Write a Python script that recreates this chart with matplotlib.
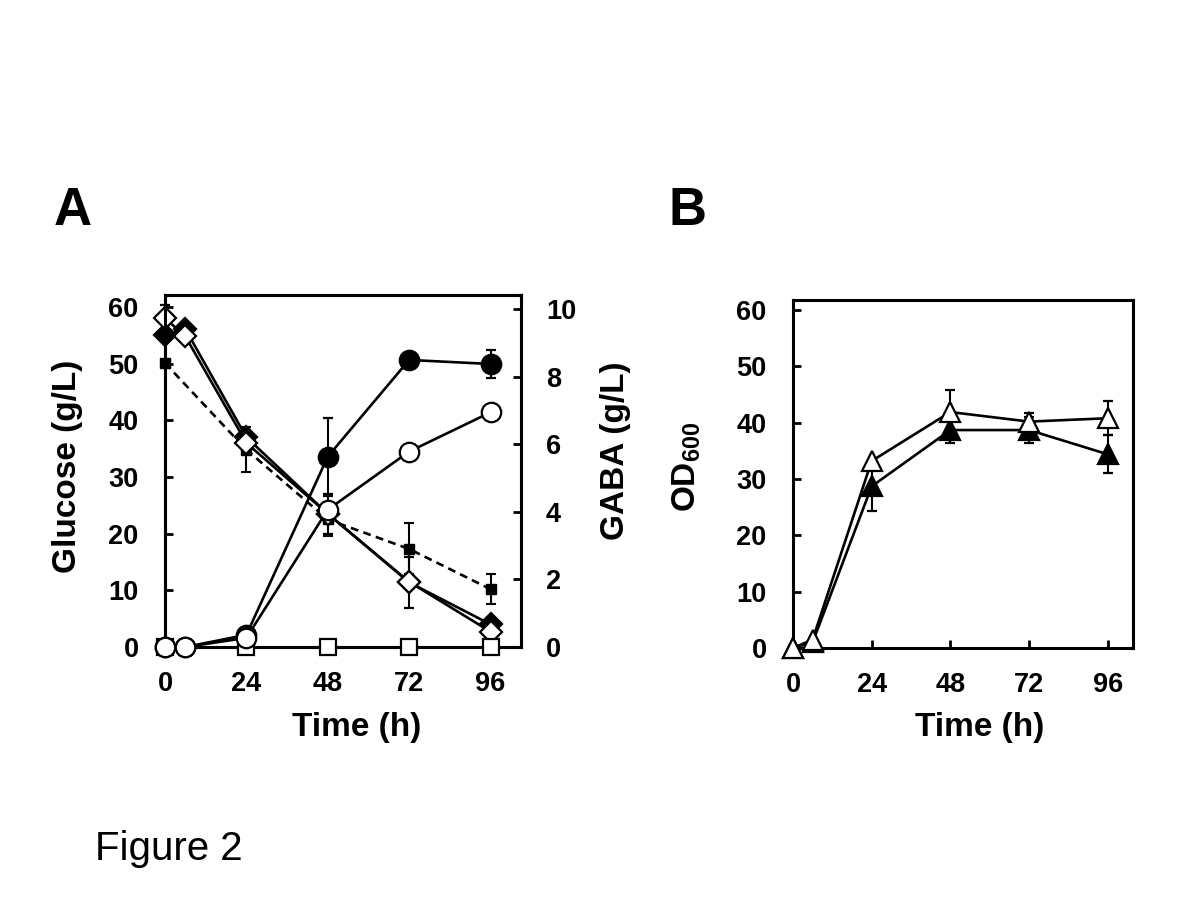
#!/usr/bin/env python
# -*- coding: utf-8 -*-
"""
Figure 2: glucose / GABA time course (A) and OD600 (B)
"""

import numpy as np
import matplotlib
matplotlib.use("Agg")
import matplotlib.pyplot as plt

plt.rcParams['font.family'] = ['Liberation Sans', 'DejaVu Sans']
plt.rcParams['mathtext.fontset'] = 'custom'
plt.rcParams['mathtext.rm'] = 'Liberation Sans:bold'
plt.rcParams['mathtext.default'] = 'rm'

# ---- data ----
t6 = [0, 6, 24, 48, 72, 96]
t5 = [0, 24, 48, 72, 96]

# panel A, left axis: glucose (g/L)
glc_fill_dia = [55.1, 56.1, 37.0, 23.5, 11.4, 4.0]
glc_fill_dia_err = [0, 0, 0, 0, 4.5, 0]
glc_open_dia = [58.0, 54.8, 36.0, 23.5, 11.5, 2.7]
glc_open_dia_err = [2.4, 0, 0, 3.5, 0, 0]
glc_fill_sq = [50.1, 34.8, 22.5, 17.3, 10.2]
glc_fill_sq_err = [0, 4.0, 3.0, 4.5, 2.7]

# panel A, right axis: GABA (g/L)
gaba_fill_circ = [0, 0, 0.36, 5.63, 8.49, 8.37]
gaba_fill_circ_err = [0, 0, 0, 1.15, 0.2, 0.4]
gaba_open_circ = [0, 0, 0.27, 4.06, 5.78, 6.94]
gaba_open_sq = [0, 0, 0, 0, 0]

# panel B: OD600
od_open_tri = [0, 1.5, 33.2, 41.9, 40.2, 40.8]
od_open_tri_err = [0, 0, 0, 3.9, 1.5, 3.0]
od_fill_tri = [0, 1.0, 28.7, 38.7, 38.7, 34.4]
od_fill_tri_err = [0, 0, 4.4, 2.3, 2.3, 3.4]

xticks = [0, 24, 48, 72, 96]

fig = plt.figure(figsize=(12, 9), dpi=100)

lw = 1.9
mew = 1.6
eb = dict(ecolor='k', elinewidth=1.5, capsize=3.5, capthick=1.5)
tickfont = 19.5
labfont = 24


def style_axis(a, ypad=19):
    for s in a.spines.values():
        s.set_linewidth(2.2)
    a.tick_params(direction='in', length=6, width=2, labelsize=tickfont)
    a.tick_params(axis='x', pad=17)
    a.tick_params(axis='y', pad=ypad)
    for lab in a.get_xticklabels() + a.get_yticklabels():
        lab.set_fontweight('bold')


# ---------------- panel A ----------------
ax = fig.add_axes([0.1375, 0.2811, 0.2967, 0.3911])
ax.errorbar(t5, glc_fill_sq, yerr=glc_fill_sq_err, fmt='s', color='k', ms=7,
            ls=(0, (3, 2)), lw=lw, clip_on=False, zorder=3, **eb)
ax.errorbar(t6, glc_fill_dia, yerr=glc_fill_dia_err, fmt='D', color='k', ms=11,
            mfc='k', mec='k', mew=mew, ls='-', lw=lw, clip_on=False, zorder=4, **eb)
ax.errorbar(t6, glc_open_dia, yerr=glc_open_dia_err, fmt='D', color='k', ms=11,
            mfc='white', mec='k', mew=mew, ls='-', lw=lw, clip_on=False, zorder=5, **eb)
ax.set_xlim(0, 105)
ax.set_ylim(0, 62.1)
ax.set_xticks(xticks)
ax.set_yticks(np.arange(0, 61, 10))
ax.tick_params(right=False)
style_axis(ax)
ax.set_ylabel('Glucose (g/L)', fontsize=labfont, fontweight='bold')
ax.yaxis.set_label_coords(-0.23, 0.514)
ax.set_xlabel('Time (h)', fontsize=labfont, fontweight='bold')
ax.xaxis.set_label_coords(0.537, -0.185)

ax2 = ax.twinx()
ax2.plot(t5, gaba_open_sq, marker='s', color='k', ms=11.5, mfc='white', mec='k',
         mew=mew, ls='-', lw=lw, clip_on=False, zorder=3)
ax2.errorbar(t6, gaba_fill_circ, yerr=gaba_fill_circ_err, fmt='o', color='k', ms=14,
             mfc='k', mec='k', mew=mew, ls='-', lw=lw, clip_on=False, zorder=4, **eb)
ax2.plot(t6, gaba_open_circ, marker='o', color='k', ms=14, mfc='white', mec='k',
         mew=mew, ls='-', lw=lw, clip_on=False, zorder=5)
ax2.set_xlim(0, 105)
ax2.set_ylim(0, 10.41)
ax2.set_yticks(np.arange(0, 11, 2))
style_axis(ax2, ypad=18)
ax2.set_ylabel('GABA (g/L)', fontsize=labfont, fontweight='bold')
ax2.yaxis.set_label_coords(1.222, 0.557)

fig.text(0.061, 0.766, 'A', fontsize=38, fontweight='bold', va='center', ha='center')

# ---------------- panel B ----------------
bx = fig.add_axes([0.6608, 0.28, 0.2833, 0.3867])
bx.errorbar(t6, od_fill_tri, yerr=od_fill_tri_err, fmt='^', color='k', ms=15,
            mfc='k', mec='k', mew=mew, ls='-', lw=lw, clip_on=False, zorder=3, **eb)
bx.errorbar(t6, od_open_tri, yerr=od_open_tri_err, fmt='^', color='k', ms=15,
            mfc='white', mec='k', mew=mew, ls='-', lw=lw, clip_on=False, zorder=4, **eb)
bx.set_xlim(0, 103.7)
bx.set_ylim(0, 61.8)
bx.set_xticks(xticks)
bx.set_yticks(np.arange(0, 61, 10))
style_axis(bx)
bx.set_ylabel(r'OD$_{600}$', fontsize=labfont, fontweight='bold')
bx.yaxis.set_label_coords(-0.265, 0.52)
bx.set_xlabel('Time (h)', fontsize=labfont, fontweight='bold')
bx.xaxis.set_label_coords(0.55, -0.184)

fig.text(0.5725, 0.766, 'B', fontsize=38, fontweight='bold', va='center', ha='center')

fig.text(0.079, 0.044, 'Figure 2', fontsize=29, va='baseline', ha='left')

fig.savefig('out.png', dpi=100)
